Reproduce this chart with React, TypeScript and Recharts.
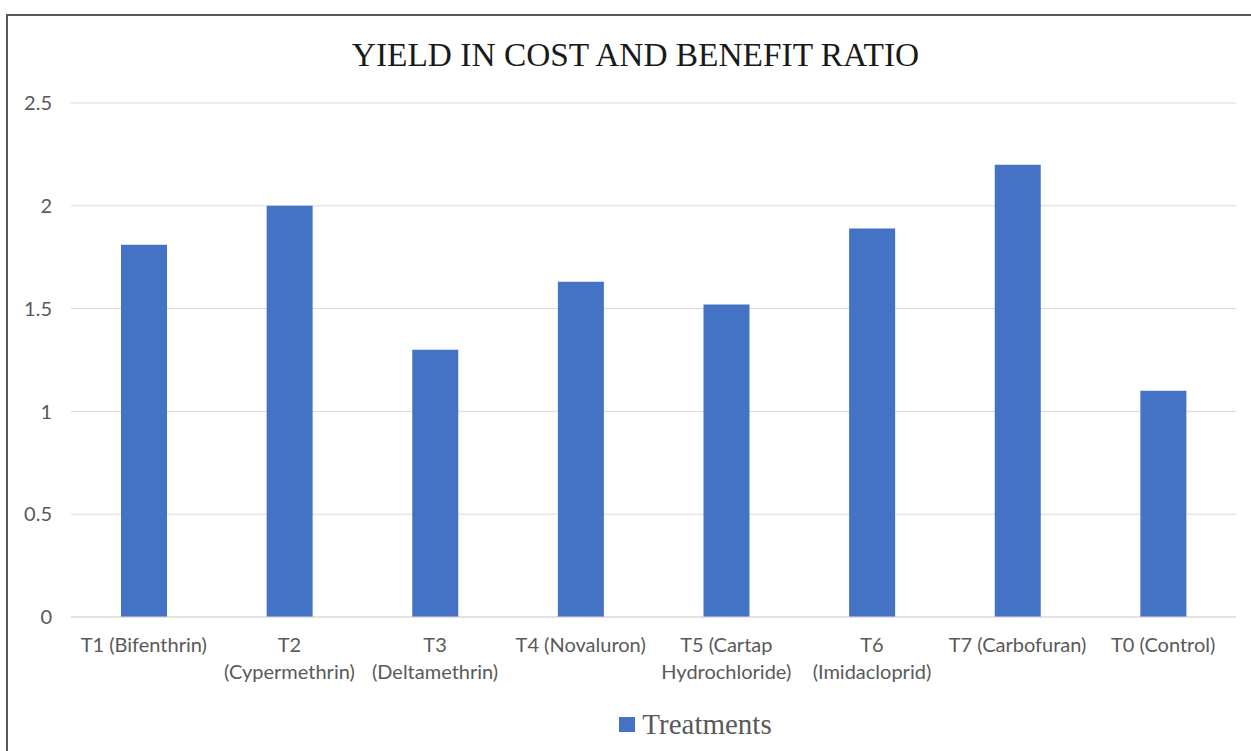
import { Bar, BarChart, CartesianGrid, Legend, XAxis, YAxis } from 'recharts'

// Treatment labels, one entry per line of the axis label
const treatmentLabels: string[][] = [
  ['T1 (Bifenthrin)'],
  ['T2', '(Cypermethrin)'],
  ['T3', '(Deltamethrin)'],
  ['T4 (Novaluron)'],
  ['T5 (Cartap', 'Hydrochloride)'],
  ['T6', '(Imidacloprid)'],
  ['T7 (Carbofuran)'],
  ['T0 (Control)'],
]

// Cost : benefit ratio per treatment
const ratioValues = [1.81, 2.0, 1.3, 1.63, 1.52, 1.89, 2.2, 1.1]

const yTicks = [0, 0.5, 1, 1.5, 2, 2.5]

const data = treatmentLabels.map((lines, i) => ({
  name: lines.join(' '),
  lines,
  Treatments: ratioValues[i],
}))

const TICK_FONT = 'Lato, "Open Sans", sans-serif'
const TICK_COLOR = '#595959'
const BAR_COLOR = '#4472C4'
const SERIF = '"Liberation Serif", "Times New Roman", serif'

function TreatmentTick(props: any) {
  const { x, y, payload, index } = props
  const lines = data[index]?.lines ?? [String(payload.value)]
  return (
    <text x={x} y={y} textAnchor="middle" fill={TICK_COLOR} fontFamily={TICK_FONT} fontSize={20}>
      {lines.map((line: string, i: number) => (
        <tspan key={i} x={x} dy={i === 0 ? 18 : 27}>
          {line}
        </tspan>
      ))}
    </text>
  )
}

function LegendContent() {
  return (
    <div
      style={{
        display: 'flex',
        justifyContent: 'center',
        alignItems: 'center',
        gap: 7,
        paddingLeft: 144,
      }}
    >
      <span style={{ width: 16, height: 15, background: BAR_COLOR, display: 'inline-block' }} />
      <span style={{ fontFamily: SERIF, fontSize: 29, color: TICK_COLOR, lineHeight: '30px' }}>
        Treatments
      </span>
    </div>
  )
}

export default function App() {
  return (
    <div
      style={{
        position: 'fixed',
        left: 0,
        top: 0,
        width: 1251,
        height: 751,
        overflow: 'hidden',
        background: '#fff',
      }}
    >
      <div
        style={{
          position: 'absolute',
          left: 6,
          top: 14,
          width: 1300,
          height: 800,
          border: '2px solid #595959',
          boxSizing: 'border-box',
        }}
      />
      <div
        style={{
          position: 'absolute',
          left: 0,
          top: 35,
          width: 1251,
          textAlign: 'center',
          fontFamily: SERIF,
          fontSize: 33.4,
          color: '#1a1a1a',
          lineHeight: '40px',
          paddingLeft: 20,
          boxSizing: 'border-box',
        }}
      >
        YIELD IN COST AND BENEFIT RATIO
      </div>
      <div style={{ position: 'absolute', left: 0, top: 0 }}>
        <BarChart
          width={1251}
          height={751}
          data={data}
          margin={{ top: 103, right: 15, bottom: 0, left: 11 }}
        >
          <CartesianGrid stroke="#d9d9d9" vertical={false} />
          <XAxis
            dataKey="name"
            axisLine={{ stroke: '#d9d9d9' }}
            tickLine={false}
            tickSize={0}
            tickMargin={17}
            height={92}
            interval={0}
            tick={<TreatmentTick />}
          />
          <YAxis
            domain={[0, 2.5]}
            ticks={yTicks}
            axisLine={false}
            tickLine={false}
            tickSize={0}
            tickMargin={19}
            width={60}
            tick={{ fill: TICK_COLOR, fontSize: 20, fontFamily: TICK_FONT }}
          />
          <Legend verticalAlign="bottom" height={42} content={<LegendContent />} />
          <Bar dataKey="Treatments" fill={BAR_COLOR} barSize={46} isAnimationActive={false} />
        </BarChart>
      </div>
    </div>
  )
}
